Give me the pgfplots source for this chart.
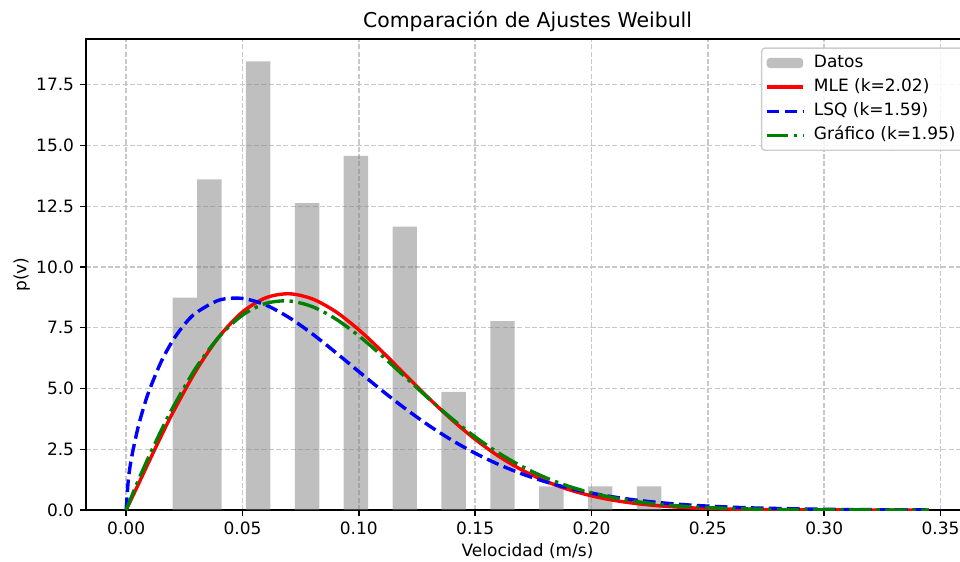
\documentclass[border=0pt]{standalone}
\usepackage{pgfplots}
\pgfplotsset{compat=1.18}
\usepackage{fontspec}
\setmainfont{DejaVu Sans}

\definecolor{mplred}{HTML}{FF0000}
\definecolor{mplblue}{HTML}{0000FF}
\definecolor{mplgreen}{HTML}{008000}
\definecolor{gridgray}{HTML}{C8C8C8}
\definecolor{legendedge}{HTML}{CCCCCC}

\begin{document}
\begin{tikzpicture}
\begin{axis}[
  name=ax,
  scale only axis,
  width=519.4pt, height=277.1pt,
  xmin=-0.01725, xmax=0.36225,
  ymin=0, ymax=19.388,
  scaled ticks=false,
  xtick={0,0.05,0.10,0.15,0.20,0.25,0.30,0.35},
  ytick={0,2.5,5,7.5,10,12.5,15,17.5},
  xticklabel style={/pgf/number format/fixed,/pgf/number format/fixed zerofill,/pgf/number format/precision=2},
  yticklabel style={/pgf/number format/fixed,/pgf/number format/fixed zerofill,/pgf/number format/precision=1},
  /pgf/number format/assume math mode=true,
  tick label style={font=\fontsize{10}{12}\selectfont, black},
  tick pos=left,
  tick align=outside,
  major tick length=3.5pt,
  tick style={black, line width=0.8pt},
  axis line style={black, line width=0.8pt},
  grid=major,
  major grid style={gridgray, line width=0.8pt, dash pattern=on 3pt off 1.3pt},
  every axis title shift=0pt,
  title={Comparación de Ajustes Weibull},
  title style={at={(rel axis cs:0.5,1)}, anchor=base, yshift=6.5pt, font=\fontsize{12}{14.4}\selectfont},
  xlabel={Velocidad (m/s)},
  xlabel style={at={(rel axis cs:0.5,0)}, anchor=base, yshift=-27.4pt, font=\fontsize{10}{12}\selectfont},
  ylabel={p(v)},
  ylabel style={at={(rel axis cs:0,0.5)}, anchor=center, yshift=37.8pt, font=\fontsize{10}{12}\selectfont},
  legend cell align=left,
  legend style={
    at={(1,1)}, anchor=north east, xshift=2.5pt, yshift=-5pt,
    draw=legendedge, line width=0.8pt, fill=white, fill opacity=0.8, text opacity=1,
    rounded corners=2pt,
    font=\fontsize{10}{12}\selectfont,
    inner xsep=2pt, inner ysep=1.75pt,
    row sep=0.2pt,
    nodes={inner sep=2pt, text height=7.5pt, text depth=2.5pt},
    /tikz/every odd column/.append style={column sep=3.3pt},
  },
]

% histogram of the measured velocities (density, bin width 0.0105)
\addplot[ybar, bar width=0.0105, bar shift=0pt, draw=none, fill=gray, fill opacity=0.5,
  legend image code/.code={\fill[gray, fill opacity=0.5] (0pt,-3pt) rectangle (21.5pt,3pt);}]
  coordinates {
    (0.02525,8.746) (0.03575,13.605) (0.05675,18.465) (0.07775,12.634)
    (0.09875,14.577) (0.11975,11.662) (0.14075,4.859) (0.16175,7.775)
    (0.18275,0.972) (0.20375,0.972) (0.22475,0.972)
  };
\addlegendentry{Datos}

% maximum likelihood fit
\addplot[mplred, line width=2pt, smooth,
  legend image code/.code={\draw[mplred, line width=2pt] (0pt,0pt) -- (21.5pt,0pt);}]
  coordinates {
    (0,0) (0.005,1.009) (0.01,2.031) (0.015,3.032) (0.02,3.993) (0.03,5.730)
    (0.04,7.139) (0.05,8.150) (0.06,8.734) (0.07,8.900) (0.08,8.689) (0.09,8.168)
    (0.10,7.417) (0.11,6.522) (0.12,5.563) (0.13,4.610) (0.14,3.713) (0.15,2.911)
    (0.16,2.221) (0.17,1.652) (0.18,1.198) (0.19,0.846) (0.20,0.583) (0.21,0.392)
    (0.22,0.258) (0.23,0.165) (0.24,0.103) (0.25,0.063) (0.27,0.022) (0.30,0.004)
    (0.345,0.0002)
  };
\addlegendentry{MLE (k=2.02)}

% least squares fit
\addplot[mplblue, line width=2pt, smooth, dash pattern=on 7.4pt off 3.2pt,
  legend image code/.code={\draw[mplblue, line width=2pt, dash pattern=on 7.4pt off 3.2pt] (0pt,0pt) -- (21.5pt,0pt);}]
  coordinates {
    (0,0) (0.001,1.310) (0.0025,2.243) (0.005,3.352) (0.0075,4.217) (0.01,4.939)
    (0.015,6.094) (0.02,6.970) (0.025,7.631) (0.03,8.113) (0.04,8.640) (0.05,8.708)
    (0.06,8.436) (0.07,7.922) (0.08,7.250) (0.09,6.489) (0.10,5.697) (0.11,4.913)
    (0.12,4.170) (0.13,3.486) (0.14,2.873) (0.15,2.338) (0.16,1.879) (0.17,1.491)
    (0.18,1.170) (0.19,0.908) (0.20,0.698) (0.21,0.530) (0.22,0.399) (0.23,0.298)
    (0.24,0.220) (0.25,0.161) (0.27,0.084) (0.30,0.030) (0.32,0.014) (0.345,0.005)
  };
\addlegendentry{LSQ (k=1.59)}

% graphical method fit
\addplot[mplgreen, line width=2pt, smooth, dash pattern=on 12.8pt off 3.2pt on 2pt off 3.2pt,
  legend image code/.code={\draw[mplgreen, line width=2pt, dash pattern=on 12.8pt off 3.2pt on 2pt off 3.2pt] (0pt,0pt) -- (21.5pt,0pt);}]
  coordinates {
    (0,0) (0.005,1.174) (0.01,2.249) (0.015,3.260) (0.02,4.203) (0.03,5.851)
    (0.04,7.136) (0.05,8.022) (0.06,8.503) (0.07,8.604) (0.08,8.370) (0.09,7.868)
    (0.10,7.168) (0.11,6.346) (0.12,5.467) (0.13,4.590) (0.14,3.760) (0.15,3.009)
    (0.16,2.352) (0.17,1.798) (0.18,1.344) (0.19,0.983) (0.20,0.704) (0.21,0.494)
    (0.22,0.339) (0.23,0.228) (0.24,0.151) (0.25,0.097) (0.27,0.038) (0.30,0.008)
    (0.345,0.0005)
  };
\addlegendentry{Gráfico (k=1.95)\rule{6pt}{0pt}}

\end{axis}
\pgfresetboundingbox
\path[use as bounding box] ([xshift=-50.6pt,yshift=-30pt]ax.south west) rectangle ([xshift=-5.3pt,yshift=22.9pt]ax.north east);
\end{tikzpicture}
\end{document}
